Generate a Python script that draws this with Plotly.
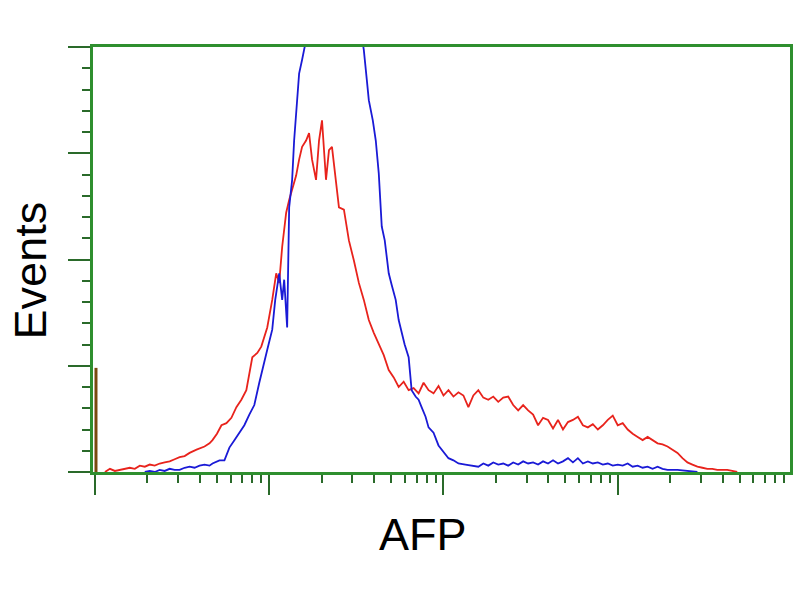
import math
import plotly.graph_objects as go

# Channel positions (log scale, 35 channels per decade) and event counts
red_channel = [2, 3, 4, 5, 6, 7, 8, 9, 10, 11, 12, 13, 14, 15, 16, 17, 18, 19, 20.4, 22, 23, 23.6, 24.5,
               25.4, 26.4, 27.4, 28.4, 29.4, 30.4, 31, 31.6, 32.6, 33.4, 34.6, 35.6, 36.4, 37, 37.6, 38.4,
               39, 39.6, 40.4, 41, 41.6, 42.4, 43, 43.6, 44.4, 45, 45.6, 46.4, 47, 47.6, 48.4, 49, 50, 51,
               52, 53, 54, 55, 56, 57, 58, 59, 60, 61, 62, 63, 64, 65, 66, 67, 68, 69, 70, 71, 72, 73, 74,
               75, 76, 77, 78, 79, 80, 81, 82, 83, 84, 85, 86, 87, 88, 89, 90, 91, 92, 93, 94, 95, 96, 97,
               98, 99, 100, 101, 102, 103, 104, 105, 106, 107, 108, 109, 110, 111, 112, 113, 114, 115, 116,
               117, 118, 119, 120, 121, 122, 123, 124, 125, 126, 127, 128, 129]
red_counts = [0, 3, 1, 2, 3, 4, 3, 6, 5, 7, 6, 8, 9, 10, 12, 14, 15, 18, 21, 24, 27, 30, 36,
              44, 46, 51, 61, 68, 77, 92, 108, 112, 118, 136, 162, 187, 178, 212, 244,
              256, 265, 279, 294, 306, 312, 319, 294, 275, 312, 331, 275, 303, 306, 275, 249, 247, 218,
              199, 178, 162, 143, 131, 120, 110, 96, 89, 80, 85, 77, 79, 74, 84, 77, 74, 81, 72, 77, 71, 75, 72,
              61, 72, 77, 70, 68, 71, 66, 70, 71, 63, 58, 63, 58, 54, 44, 51, 49, 41, 49, 40, 47, 49, 52,
              44, 42, 45, 40, 44, 49, 53, 44, 46, 40, 36, 33, 30, 33, 30, 27, 26, 24, 21,
              18, 13, 9, 7, 5, 4, 3, 3, 2, 2, 2, 1, 0]

blue_channel = [10, 11, 12, 13, 14, 15, 16, 17, 18, 19, 20, 21, 22, 23, 23.6, 24.5, 25, 26, 27, 28, 29, 30,
                31, 32, 33, 34, 34.6, 35.6, 36.2, 37, 37.6, 38, 38.6, 39, 39.6, 40, 40.4, 41, 41.6, 42.2,
                43, 44, 46, 48, 50, 52, 53, 54, 54.6, 55, 55.8, 56.4, 57, 57.6, 58.2, 59, 59.6, 60.4, 61,
                61.6, 62.2, 63, 63.6, 64.4, 65, 65.6, 66.4, 67, 68, 69, 70, 71, 72, 73, 74.4, 76, 77, 78,
                79, 80, 81, 82, 83, 84, 85, 86, 87, 88, 89, 90, 91, 92, 93, 94, 95, 96, 97, 98, 99, 100,
                101, 102, 103, 104, 105, 106, 107, 108, 109, 110, 111, 112, 113, 114, 115, 117, 119, 121]
blue_counts = [0, 1, 0, 2, 1, 3, 2, 2, 4, 5, 4, 6, 7, 6, 8, 10, 11, 11, 23, 30, 37, 44,
               54, 63, 84, 105, 115, 134, 162, 187, 162, 181, 136, 249, 275, 312, 334, 375, 388, 402,
               440, 470, 490, 480, 470, 460, 430, 397, 369, 350, 331, 312, 281, 231, 218, 187, 176, 162, 143,
               131, 120, 108, 77, 71, 68, 61, 52, 42, 37, 25, 19, 13, 11, 8, 7, 6, 5, 8,
               6, 9, 7, 8, 6, 9, 7, 10, 8, 9, 7, 10, 8, 11, 8, 10, 13, 9, 13, 8, 10, 8,
               9, 7, 8, 6, 7, 6, 8, 5, 6, 4, 5, 3, 5, 3, 2, 2, 1, 0]

spike_channel = [0.2, 0.2]
spike_counts = [0, 98]

green = "#2f8f2f"
tick_green = "#2a6a2a"

fig = go.Figure()
fig.add_trace(go.Scatter(x=red_channel, y=red_counts, mode="lines",
                         line=dict(color="#e8231c", width=1.8), showlegend=False))
fig.add_trace(go.Scatter(x=blue_channel, y=blue_counts, mode="lines",
                         line=dict(color="#1a1ad6", width=1.8), showlegend=False))
fig.add_trace(go.Scatter(x=spike_channel, y=spike_counts, mode="lines",
                         line=dict(color="#7a4a10", width=3), showlegend=False))

minor_x = []
for dec in range(4):
    for k in range(2, 10):
        minor_x.append(35 * dec + 35 * math.log10(k))

fig.update_layout(
    width=800, height=600,
    margin=dict(l=93, r=7, t=47, b=128),
    paper_bgcolor="white", plot_bgcolor="white",
    xaxis=dict(range=[-0.4, 139.6], showgrid=False, zeroline=False,
               showline=True, linecolor=green, linewidth=3, mirror=True,
               tickmode="array", tickvals=[0, 35, 70, 105], showticklabels=False,
               ticks="outside", ticklen=20, tickwidth=2, tickcolor=tick_green,
               minor=dict(tickmode="array", tickvals=minor_x, ticks="outside",
                          ticklen=8, tickwidth=2, tickcolor=tick_green, showgrid=False)),
    yaxis=dict(range=[0, 400], showgrid=False, zeroline=False,
               showline=True, linecolor=green, linewidth=3, mirror=True,
               tickmode="array", tickvals=[0, 100, 200, 300, 400], showticklabels=False,
               ticks="outside", ticklen=22, tickwidth=2, tickcolor=tick_green,
               minor=dict(dtick=20, tick0=0, ticks="outside", ticklen=8, tickwidth=2,
                          tickcolor=tick_green, showgrid=False)),
    annotations=[
        dict(text="AFP", xref="paper", yref="paper", x=0.474, y=-0.148,
             xanchor="center", yanchor="middle", showarrow=False,
             font=dict(family="Liberation Sans, Arial", size=45, color="black")),
        dict(text="Events", xref="paper", yref="paper", x=-0.09, y=0.475,
             xanchor="center", yanchor="middle", showarrow=False, textangle=-90,
             font=dict(family="Liberation Sans, Arial", size=45, color="black")),
    ],
)

fig.write_html("out.html", config={"displayModeBar": False},
               post_script="document.body.style.margin='0';")
